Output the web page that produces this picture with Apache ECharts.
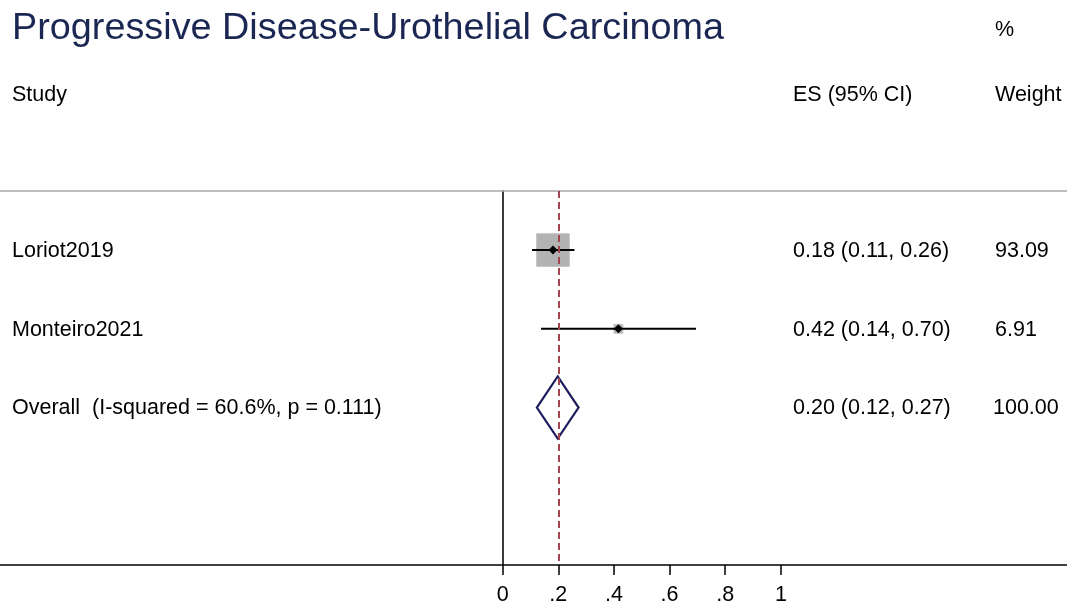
<!DOCTYPE html>
<html>
<head>
<meta charset="utf-8">
<script src="https://cdn.jsdelivr.net/npm/echarts@6/dist/echarts.min.js"></script>
<style>
  html, body { margin: 0; padding: 0; background: #fff; }
  #chart { width: 1067px; height: 606px; }
</style>
</head>
<body>
<div id="chart"></div>
<script>
// ---- data ----
const studies = ['Loriot2019', 'Monteiro2021'];
const studyEs = [0.181, 0.416];
const studyLo = [0.106, 0.138];
const studyHi = [0.258, 0.695];
const studyWeights = [93.09, 6.91];
const studyEsText = ['0.18 (0.11, 0.26)', '0.42 (0.14, 0.70)'];
const studyWeightText = ['93.09', '6.91'];

const overallLabel = 'Overall  (I-squared = 60.6%, p = 0.111)';
const overallEs = 0.198;
const overallLo = 0.123;
const overallHi = 0.273;
const overallEsText = '0.20 (0.12, 0.27)';
const overallWeightText = '100.00';

const xTicks = [0, 0.2, 0.4, 0.6, 0.8, 1];
const xTickLabels = ['0', '.2', '.4', '.6', '.8', '1'];

const titleText = 'Progressive Disease-Urothelial Carcinoma';
const headerStudy = 'Study';
const headerEs = 'ES (95% CI)';
const headerPct = '%';
const headerWeight = 'Weight';

// ---- styling / layout ----
const FONT = '"Liberation Sans", Arial, sans-serif';
const FS = 21.5;
const COL_STUDY = 12, COL_ES = 793, COL_W = 995;
const X_MIN = -1.806, X_MAX = 2.028;   // axis spans full page width
const Y_MIN = 0.25, Y_MAX = 5.0;       // row units (1 = first study)

const chart = echarts.init(document.getElementById('chart'), null, { renderer: 'canvas' });

const studyData = studies.map((s, i) => [i + 1, studyEs[i], studyLo[i], studyHi[i], studyWeights[i]]);
const overallRow = studies.length + 1;

function txt(x, y, text, extra) {
  return {
    type: 'text',
    style: Object.assign({ x: x, y: y, text: text, fill: '#000', font: FS + 'px ' + FONT,
      verticalAlign: 'middle', align: 'left' }, extra || {})
  };
}

const option = {
  animation: false,
  backgroundColor: '#fff',
  grid: { left: 0, right: 0, top: 191, bottom: 40, containLabel: false },
  xAxis: [
    {
      type: 'value', position: 'bottom', min: X_MIN, max: X_MAX,
      axisLine: { show: true, onZero: false, lineStyle: { color: '#000', width: 1.5 } },
      axisTick: { show: true, customValues: xTicks, length: 10, lineStyle: { color: '#000', width: 1.5 } },
      axisLabel: {
        show: true, customValues: xTicks, margin: 19, color: '#000', fontSize: FS, fontFamily: FONT,
        formatter: v => { const k = xTicks.findIndex(t => Math.abs(t - v) < 1e-9); return k >= 0 ? xTickLabels[k] : ''; }
      },
      splitLine: { show: false }
    },
    {
      type: 'value', position: 'top', min: X_MIN, max: X_MAX,
      axisLine: { show: true, onZero: false, lineStyle: { color: '#a8a8a8', width: 1.5 } },
      axisTick: { show: false }, axisLabel: { show: false }, splitLine: { show: false }
    }
  ],
  yAxis: {
    type: 'value', inverse: true, min: Y_MIN, max: Y_MAX,
    axisLine: { show: true, onZero: true, onZeroAxisIndex: 0, lineStyle: { color: '#3c3c3c', width: 2 } },
    axisTick: { show: false }, axisLabel: { show: false }, splitLine: { show: false }
  },
  graphic: [
    { type: 'text', left: 12, top: 10, style: { text: titleText, fill: '#1b2753', font: '37.8px ' + FONT } },
    { type: 'text', left: COL_STUDY, top: 84, style: { text: headerStudy, fill: '#000', font: FS + 'px ' + FONT } },
    { type: 'text', left: COL_ES, top: 84, style: { text: headerEs, fill: '#000', font: FS + 'px ' + FONT } },
    { type: 'text', left: COL_W, top: 19, style: { text: headerPct, fill: '#000', font: FS + 'px ' + FONT } },
    { type: 'text', left: COL_W, top: 84, style: { text: headerWeight, fill: '#000', font: FS + 'px ' + FONT } }
  ],
  series: [
    {
      type: 'custom',
      xAxisIndex: 0, yAxisIndex: 0,
      data: studyData,
      renderItem: function (params, api) {
        const i = params.dataIndex;
        const row = api.value(0);
        const c = api.coord([api.value(1), row]);
        const l = api.coord([api.value(2), row]);
        const h = api.coord([api.value(3), row]);
        const side = 3.4 * Math.sqrt(api.value(4));
        const d = 4.5;
        return {
          type: 'group',
          children: [
            { type: 'rect', shape: { x: c[0] - side / 2, y: c[1] - side / 2, width: side, height: side },
              style: { fill: '#b3b3b3', stroke: '#c4c4c4', lineWidth: 1 } },
            { type: 'line', shape: { x1: l[0], y1: l[1], x2: h[0], y2: h[1] },
              style: { stroke: '#000', lineWidth: 2 } },
            { type: 'polygon', shape: { points: [[c[0] - d, c[1]], [c[0], c[1] - d], [c[0] + d, c[1]], [c[0], c[1] + d]] },
              style: { fill: '#000' } },
            txt(COL_STUDY, c[1] + 1, studies[i]),
            txt(COL_ES, c[1] + 1, studyEsText[i]),
            txt(COL_W, c[1] + 1, studyWeightText[i])
          ]
        };
      },
      markLine: {
        silent: true, symbol: 'none', label: { show: false },
        lineStyle: { color: '#a04650', width: 2, type: [7, 4] },
        data: [{ xAxis: overallEs }]
      },
      z: 3
    },
    {
      type: 'custom',
      xAxisIndex: 0, yAxisIndex: 0,
      data: [[overallRow, overallEs, overallLo, overallHi]],
      renderItem: function (params, api) {
        const row = api.value(0);
        const half = 0.395;
        const left = api.coord([api.value(2), row]);
        const top = api.coord([api.value(1), row - half]);
        const right = api.coord([api.value(3), row]);
        const bottom = api.coord([api.value(1), row + half]);
        return {
          type: 'group',
          children: [
            { type: 'polygon', shape: { points: [left, top, right, bottom] },
              style: { fill: 'rgba(255,255,255,0)', stroke: '#1c1c5e', lineWidth: 2.2, lineJoin: 'miter' } },
            txt(COL_STUDY, left[1] + 1, overallLabel),
            txt(COL_ES, left[1] + 1, overallEsText),
            txt(COL_W - 2, left[1] + 1, overallWeightText)
          ]
        };
      },
      z: 4
    }
  ]
};

chart.setOption(option);
</script>
</body>
</html>
